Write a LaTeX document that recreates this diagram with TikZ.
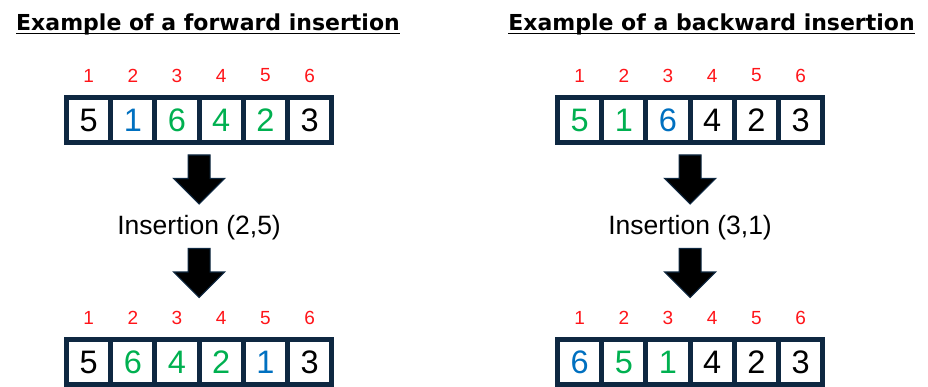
\documentclass[tikz,border=0pt]{standalone}
\usepackage{fontspec}
\setmainfont{Liberation Sans}
\newfontfamily\tytulfont{DejaVu Sans}
\usepackage{tikz}
\usepackage{xcolor}

\definecolor{ramka}{RGB}{14,40,65}
\definecolor{czerw}{RGB}{255,20,25}
\definecolor{ziel}{RGB}{0,176,80}
\definecolor{nieb}{RGB}{0,112,192}

\begin{document}
\begin{tikzpicture}[
  x=1pt, y=-1pt,
  kom/.style={draw=ramka, line width=5pt, minimum width=44.2pt, minimum height=45pt,
    inner sep=0, font=\fontsize{32.5}{36}\selectfont},
  idx/.style={text=czerw, inner sep=0, font=\fontsize{19}{22}\selectfont},
  opis/.style={inner sep=0, font=\fontsize{26.5}{30}\selectfont},
  tytul/.style={inner sep=0, anchor=base, font=\tytulfont\bfseries\fontsize{22}{26}\selectfont},
  strz/.style={fill=black, draw=ramka, line width=1.2pt, line join=miter},
]
\useasboundingbox (0,0) rectangle (928,387);
% Tytuly
\node[tytul] (t1) at (208,31) {Example of a forward insertion};
\node[tytul] (t2) at (711.5,31) {Example of a backward insertion};
\draw[line width=1.8pt] ([yshift=-2.5pt]t1.base west) -- ([yshift=-2.5pt]t1.base east);
\draw[line width=1.8pt] ([yshift=-2.5pt]t2.base west) -- ([yshift=-2.5pt]t2.base east);
% Lewa tablica, przed
\begin{scope}[shift={(66.5,120)}]
  \node[kom] (la1) at ( 22.1,0) {5};
  \node[kom, text=nieb] (la2) at ( 66.3,0) {1};
  \node[kom, text=ziel] (la3) at (110.5,0) {6};
  \node[kom, text=ziel] (la4) at (154.7,0) {4};
  \node[kom, text=ziel] (la5) at (198.9,0) {2};
  \node[kom] (la6) at (243.1,0) {3};
  \foreach \i in {1,...,6} \node[idx] (lai\i) at ([yshift=44.5pt]la\i) {\i};
\end{scope}
% Lewa tablica, po
\begin{scope}[shift={(66.5,362)}]
  \node[kom] (lb1) at ( 22.1,0) {5};
  \node[kom, text=ziel] (lb2) at ( 66.3,0) {6};
  \node[kom, text=ziel] (lb3) at (110.5,0) {4};
  \node[kom, text=ziel] (lb4) at (154.7,0) {2};
  \node[kom, text=nieb] (lb5) at (198.9,0) {1};
  \node[kom] (lb6) at (243.1,0) {3};
  \foreach \i in {1,...,6} \node[idx] (lbi\i) at ([yshift=44pt]lb\i) {\i};
\end{scope}
% Prawa tablica, przed
\begin{scope}[shift={(557.5,120)}]
  \node[kom, text=ziel] (ra1) at ( 22.1,0) {5};
  \node[kom, text=ziel] (ra2) at ( 66.3,0) {1};
  \node[kom, text=nieb] (ra3) at (110.5,0) {6};
  \node[kom] (ra4) at (154.7,0) {4};
  \node[kom] (ra5) at (198.9,0) {2};
  \node[kom] (ra6) at (243.1,0) {3};
  \foreach \i in {1,...,6} \node[idx] (rai\i) at ([yshift=44.5pt]ra\i) {\i};
\end{scope}
% Prawa tablica, po
\begin{scope}[shift={(557.5,362)}]
  \node[kom, text=nieb] (rb1) at ( 22.1,0) {6};
  \node[kom, text=ziel] (rb2) at ( 66.3,0) {5};
  \node[kom, text=ziel] (rb3) at (110.5,0) {1};
  \node[kom] (rb4) at (154.7,0) {4};
  \node[kom] (rb5) at (198.9,0) {2};
  \node[kom] (rb6) at (243.1,0) {3};
  \foreach \i in {1,...,6} \node[idx] (rbi\i) at ([yshift=44pt]rb\i) {\i};
\end{scope}
% Opisy
\node[opis] (ol) at (199.1,228) {Insertion (2,5)};
\node[opis] (or) at (690.1,228) {Insertion (3,1)};
% Strzalki
\foreach \cx/\ty in {199.1/155, 199.1/248.5, 690.1/155, 690.1/248.5}
  \filldraw[strz] (\cx-11,\ty) -- (\cx+11,\ty) -- (\cx+11,\ty+23.5) -- (\cx+25.5,\ty+23.5)
    -- (\cx,\ty+49) -- (\cx-25.5,\ty+23.5) -- (\cx-11,\ty+23.5) -- cycle;
\end{tikzpicture}
\end{document}
